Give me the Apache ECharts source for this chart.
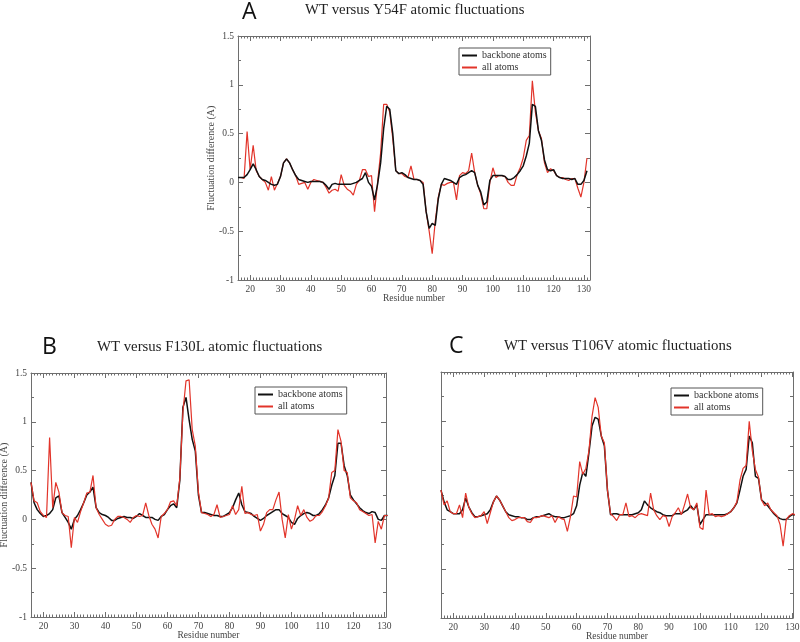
<!DOCTYPE html>
<html><head><meta charset="utf-8">
<script src="https://cdn.jsdelivr.net/npm/echarts@6/dist/echarts.min.js"></script>
<style>html,body{margin:0;padding:0;background:#fff}#c{width:800px;height:642px}</style>
</head><body><div id="c"></div><script>
const residues = [16,17,18,19,20,21,22,23,24,25,26,27,28,29,30,31,32,33,34,35,36,37,38,39,40,41,42,43,44,45,46,47,48,49,50,51,52,53,54,55,56,57,58,59,60,61,62,63,64,65,66,67,68,69,70,71,72,73,74,75,76,77,78,79,80,81,82,83,84,85,86,87,88,89,90,91,92,93,94,95,96,97,98,99,100,101,102,103,104,105,106,107,108,109,110,111,112,113,114,115,116,117,118,119,120,121,122,123,124,125,126,127,128,129,130,131];

// Panel A: WT versus Y54F
const aBackbone = [0.05,0.05,0.05,0.08,0.13,0.19,0.13,0.06,0.03,0.02,
0.0,-0.02,-0.03,-0.02,0.06,0.2,0.24,0.2,0.13,0.07,
0.03,0.02,0.01,0.0,0.01,0.01,0.01,0.01,0.0,-0.03,
-0.07,-0.02,-0.01,-0.02,-0.02,-0.02,-0.02,-0.02,-0.01,0.0,
0.02,0.04,0.1,0.0,-0.04,-0.18,-0.02,0.2,0.55,0.78,
0.75,0.5,0.12,0.09,0.1,0.08,0.05,0.04,0.03,0.03,
0.02,-0.02,-0.3,-0.47,-0.42,-0.44,-0.17,-0.02,0.04,0.03,
0.02,0.0,-0.02,0.05,0.07,0.08,0.1,0.12,0.1,-0.03,
-0.1,-0.23,-0.2,0.02,0.07,0.07,0.07,0.07,0.06,0.03,
0.03,0.05,0.08,0.12,0.17,0.27,0.4,0.8,0.78,0.53,
0.43,0.23,0.13,0.12,0.13,0.07,0.05,0.04,0.04,0.04,
0.03,0.04,-0.02,-0.02,0.02,0.12];
const aAll = [0.05,0.05,0.04,0.52,0.13,0.38,0.12,0.06,0.03,0.0,
-0.08,0.06,-0.08,-0.01,0.06,0.2,0.24,0.2,0.13,0.07,
-0.02,-0.01,0.0,-0.07,0.0,0.03,0.02,0.01,0.0,-0.05,
-0.11,-0.08,-0.07,-0.09,0.08,-0.03,-0.07,-0.09,-0.13,-0.02,
0.02,0.13,0.13,0.06,0.07,-0.3,0.0,0.3,0.8,0.8,
0.72,0.45,0.12,0.09,0.09,0.06,0.05,0.17,0.03,0.03,
0.02,0.0,-0.3,-0.5,-0.73,-0.4,-0.15,-0.02,-0.03,-0.01,
0.0,0.0,-0.18,0.07,0.1,0.09,0.12,0.3,0.1,-0.03,
-0.12,-0.27,-0.27,0.0,0.15,0.05,0.07,0.07,0.06,0.0,
-0.03,-0.03,0.08,0.15,0.25,0.43,0.48,1.04,0.72,0.53,
0.45,0.2,0.1,0.14,0.12,0.07,0.05,0.05,0.03,0.02,
0.04,0.04,-0.06,-0.15,0.0,0.25];

// Panel B: WT versus F130L
const bBackbone = [0.38,0.17,0.1,0.06,0.03,0.04,0.06,0.1,0.22,0.24,
0.07,0.02,-0.03,-0.1,0.0,0.04,0.1,0.17,0.25,0.28,
0.33,0.12,0.07,0.05,0.04,0.02,-0.01,-0.01,0.01,0.02,
0.03,0.02,0.02,0.01,0.03,0.06,0.04,0.02,0.02,0.02,
0.0,-0.01,0.03,0.05,0.1,0.14,0.16,0.12,0.4,1.15,
1.25,1.02,0.82,0.7,0.25,0.07,0.07,0.06,0.05,0.04,
0.04,0.03,0.03,0.05,0.07,0.12,0.2,0.27,0.15,0.08,
0.07,0.06,0.03,0.01,-0.01,0.01,0.04,0.06,0.08,0.1,
0.1,0.06,0.04,0.02,-0.03,-0.05,0.01,0.04,0.06,0.07,
0.06,0.04,0.04,0.06,0.1,0.15,0.22,0.35,0.45,0.78,
0.78,0.55,0.45,0.25,0.2,0.16,0.12,0.09,0.07,0.06,
0.08,0.07,0.0,-0.01,0.04,0.04];
const bAll = [0.38,0.19,0.17,0.08,0.04,0.02,0.84,0.12,0.38,0.28,
0.07,0.04,0.03,-0.29,0.02,-0.03,0.08,0.17,0.27,0.28,
0.45,0.12,0.05,0.0,-0.05,-0.07,-0.06,0.0,0.03,0.03,
0.02,0.0,-0.03,0.02,0.04,0.03,0.04,0.17,0.04,-0.05,
-0.1,-0.19,0.03,0.06,0.1,0.18,0.19,0.14,0.42,1.1,
1.42,1.43,0.92,0.75,0.28,0.07,0.06,0.05,0.03,0.05,
0.15,0.02,0.03,0.04,0.05,0.14,0.05,0.1,0.34,0.06,
0.07,0.05,0.04,0.05,-0.12,-0.05,0.07,0.1,0.1,0.2,
0.28,0.0,-0.19,0.05,-0.1,0.0,0.14,0.04,0.1,0.02,
-0.02,0.0,0.04,0.04,0.08,0.14,0.22,0.48,0.5,0.92,
0.8,0.5,0.48,0.22,0.19,0.17,0.1,0.08,0.06,0.04,
0.05,-0.24,-0.02,-0.1,0.04,0.04];

// Panel C: WT versus T106V
const cBackbone = [0.3,0.18,0.1,0.08,0.06,0.06,0.06,0.1,0.22,0.13,
0.07,0.03,0.03,0.04,0.05,0.06,0.1,0.18,0.24,0.2,
0.14,0.08,0.05,0.04,0.03,0.03,0.02,0.02,0.0,0.0,
0.02,0.03,0.03,0.04,0.05,0.06,0.04,0.03,0.03,0.02,
0.02,0.03,0.04,0.06,0.14,0.35,0.48,0.44,0.68,0.95,
1.04,1.02,0.85,0.75,0.3,0.05,0.06,0.06,0.05,0.05,
0.05,0.05,0.05,0.06,0.07,0.1,0.19,0.15,0.12,0.1,
0.08,0.07,0.05,0.04,0.04,0.04,0.06,0.06,0.06,0.08,
0.1,0.14,0.1,0.15,-0.05,0.0,0.05,0.05,0.05,0.05,
0.05,0.05,0.05,0.06,0.08,0.12,0.17,0.3,0.44,0.51,
0.85,0.78,0.44,0.42,0.2,0.17,0.14,0.1,0.06,0.03,
0.01,0.0,0.0,0.03,0.05,0.05];
const cAll = [0.3,0.15,0.19,0.08,0.06,0.06,0.15,0.02,0.27,0.13,
0.06,0.02,0.03,0.04,0.08,-0.04,0.07,0.18,0.24,0.2,
0.14,0.08,0.02,-0.01,0.0,0.02,0.02,0.02,-0.02,-0.03,
0.02,0.02,0.03,0.04,0.03,0.02,0.04,-0.03,0.03,0.01,
0.0,-0.12,0.03,0.24,0.23,0.59,0.46,0.52,0.7,1.05,
1.24,1.14,0.85,0.78,0.3,0.06,0.03,-0.01,0.05,0.05,
0.17,0.03,0.04,0.02,0.05,0.06,0.05,0.04,0.27,0.1,
0.04,0.0,0.04,0.03,-0.07,0.03,0.07,0.12,0.05,0.15,
0.26,0.12,0.1,0.17,-0.08,-0.1,0.3,0.05,0.06,0.03,
0.04,0.03,0.04,0.06,0.08,0.12,0.18,0.4,0.52,0.55,
1.0,0.7,0.51,0.43,0.2,0.14,0.17,0.1,0.07,0.04,
-0.05,-0.27,0.0,0.04,0.06,0.05];

const xTicks = [20,30,40,50,60,70,80,90,100,110,120,130];
const seriesNames = ['backbone atoms','all atoms'];
const panelLetters = ['A','B','C'];
const panelTitles = ['WT versus Y54F atomic fluctuations','WT versus F130L atomic fluctuations','WT versus T106V atomic fluctuations'];
const xLabel = 'Residue number';
const yLabel = 'Fluctuation difference (A)';

const SERIF = "'Liberation Serif', 'DejaVu Serif', serif";
const SANS = "'Open Sans', 'Noto Sans', sans-serif";
const AX = '#6e6e6e';
const LBL = '#444';
const BLACK = '#111111';
const RED = '#e2342a';

const grids = [
  {left:238, top:36, width:352, height:244, outerBoundsMode:'none', containLabel:false},
  {left:31, top:373, width:355, height:244, outerBoundsMode:'none', containLabel:false},
  {left:441, top:372, width:352, height:246, outerBoundsMode:'none', containLabel:false}
];
const xMax = [132, 130.5, 130.2];
const showYLabels = [true, true, false];

const xAxis = [], yAxis = [], series = [];
grids.forEach((g, i) => {
  const base = {type:'value', gridIndex:i, min:16, max:xMax[i], splitLine:{show:false}};
  xAxis.push(
    Object.assign({}, base, {position:'bottom',
      axisLine:{show:true, onZero:false, lineStyle:{color:AX, width:1}},
      axisTick:{show:true, inside:true, length:5, customValues:xTicks, lineStyle:{color:AX}},
      axisLabel:{show:true, customValues:xTicks, margin:4, fontSize:9.5, fontFamily:SERIF, color:LBL},
      name:xLabel, nameLocation:'middle', nameGap:13, nameMoveOverlap:false,
      nameTextStyle:{fontSize:9.5, fontFamily:SERIF, color:LBL}}),
    Object.assign({}, base, {position:'bottom', interval:1,
      axisLine:{show:false, onZero:false},
      axisTick:{show:true, inside:true, length:2.5, lineStyle:{color:AX}},
      axisLabel:{show:false}}),
    Object.assign({}, base, {position:'top',
      axisLine:{show:true, onZero:false, lineStyle:{color:AX, width:1}},
      axisTick:{show:true, inside:true, length:5, customValues:xTicks, lineStyle:{color:AX}},
      axisLabel:{show:false}}),
    Object.assign({}, base, {position:'top', interval:1,
      axisLine:{show:false, onZero:false},
      axisTick:{show:true, inside:true, length:2.5, lineStyle:{color:AX}},
      axisLabel:{show:false}})
  );
  const ybase = {type:'value', gridIndex:i, min:-1, max:1.5, interval:0.5,
    splitLine:{show:false}, minorSplitLine:{show:false},
    axisLine:{show:true, onZero:false, lineStyle:{color:AX, width:1}},
    axisTick:{show:true, inside:true, length:5, lineStyle:{color:AX}},
    minorTick:{show:true, splitNumber:2, length:3, lineStyle:{color:AX}}};
  yAxis.push(
    Object.assign({}, ybase, {position:'left',
      axisLabel:{show:showYLabels[i], margin:4, fontSize:9.5, fontFamily:SERIF, color:LBL},
      name: showYLabels[i] ? yLabel : '', nameLocation:'middle', nameGap:22, nameMoveOverlap:false,
      nameTextStyle:{fontSize:10, fontFamily:SERIF, color:LBL}}),
    Object.assign({}, ybase, {position:'right', axisLabel:{show:false}})
  );
});

function pts(arr){ return residues.map((r, k) => [r, arr[k]]); }
const panelData = [[aBackbone, aAll], [bBackbone, bAll], [cBackbone, cAll]];
panelData.forEach((pair, i) => {
  const blackOnTop = (i === 0);
  series.push({type:'line', name:seriesNames[0], xAxisIndex:4*i, yAxisIndex:2*i,
    data:pts(pair[0]), symbol:'none', showSymbol:false,
    lineStyle:{color:BLACK, width:1.5}, itemStyle:{color:BLACK}, z: blackOnTop ? 4 : 2});
  series.push({type:'line', name:seriesNames[1], xAxisIndex:4*i, yAxisIndex:2*i,
    data:pts(pair[1]), symbol:'none', showSymbol:false,
    lineStyle:{color:RED, width:1.2}, itemStyle:{color:RED}, z: 3});
});

const legendPos = [{left:459, top:48}, {left:255, top:387}, {left:671, top:388}];
const legend = legendPos.map(p => ({
  data:seriesNames, left:p.left, top:p.top, orient:'vertical', itemGap:1,
  padding:[2,4,2,3], borderColor:'#555', borderWidth:1, backgroundColor:'#fff',
  icon:'rect', itemWidth:15, itemHeight:2, itemStyle:{borderWidth:0}, selectedMode:false,
  textStyle:{fontSize:10, fontFamily:SERIF, color:'#333', lineHeight:11}
}));

const letterPos = [{left:242, top:1}, {left:42, top:336}, {left:449, top:335}];
const titlePos = [{left:305, top:3}, {left:97, top:340}, {left:504, top:339}];
const title = [];
panelLetters.forEach((L, i) => {
  title.push({text:L, left:letterPos[i].left, top:letterPos[i].top, padding:0,
    textStyle:{fontFamily:SANS, fontSize:23, fontWeight:'normal', color:'#111'}});
  title.push({text:panelTitles[i], left:titlePos[i].left, top:titlePos[i].top, padding:0,
    textStyle:{fontFamily:SERIF, fontSize:14.8, fontWeight:'normal', color:'#222'}});
});

const chart = echarts.init(document.getElementById('c'), null, {renderer:'canvas'});
chart.setOption({
  animation:false, backgroundColor:'#fff',
  title, legend, grid:grids, xAxis, yAxis, series
});
</script></body></html>
